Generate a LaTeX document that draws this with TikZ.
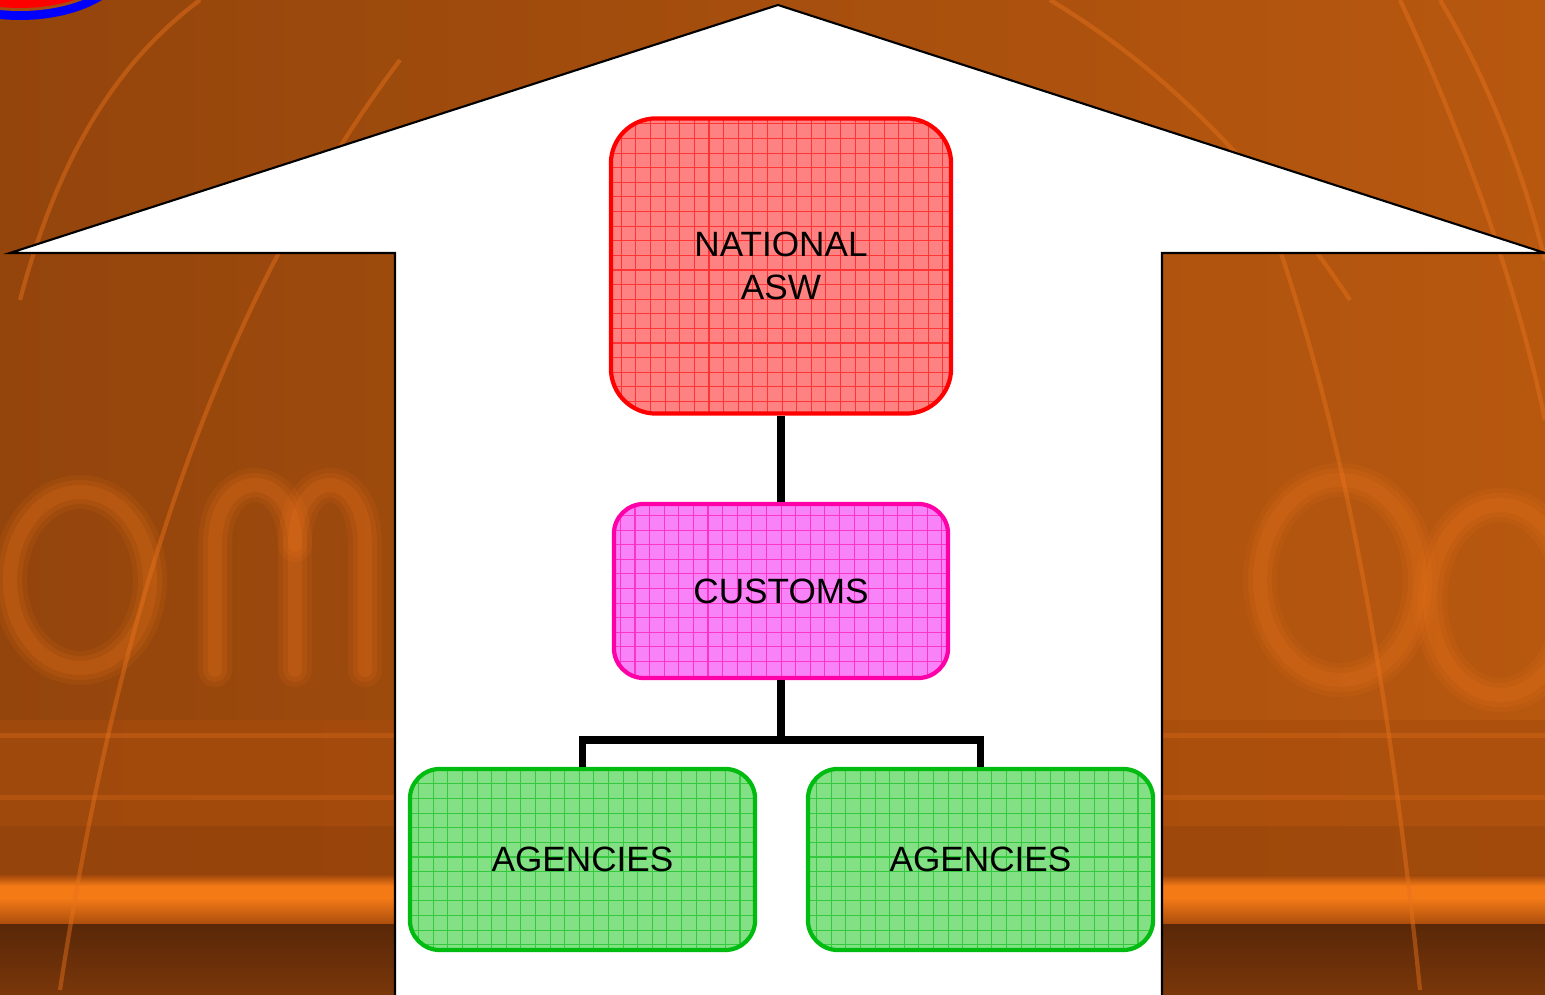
\documentclass[tikz,border=0pt]{standalone}
\usepackage{fontspec}
\setmainfont{Liberation Sans}
\definecolor{bgA}{HTML}{94450C}
\definecolor{bgB}{HTML}{B8580F}
\definecolor{bgMid}{HTML}{A84C0C}
\definecolor{glow}{HTML}{E8721C}
\definecolor{band}{HTML}{F47A16}
\definecolor{darkband}{HTML}{5A2808}
\definecolor{natborder}{HTML}{FF0000}
\definecolor{natfill}{HTML}{FF8282}
\definecolor{cusborder}{HTML}{FF00A8}
\definecolor{cusfill}{HTML}{F882F8}
\definecolor{agborder}{HTML}{00BB10}
\definecolor{agfill}{HTML}{84E084}
\tikzset{
  box/.style={draw, line width=1.2pt, font=\fontsize{10}{12}\selectfont, align=center, inner sep=0pt},
  gridded/.style={path picture={\draw[#1, line width=0.3pt, opacity=0.6] ([shift={(-1cm,-1cm)}]path picture bounding box.south west) grid[step=0.146cm] ([shift={(1cm,1cm)}]path picture bounding box.north east);}},
  conn/.style={line width=2pt, black},
  ghostA/.style={line width=0.34cm, glow, opacity=0.12, line cap=round},
  ghostB/.style={line width=0.24cm, glow, opacity=0.16, line cap=round},
  ghostC/.style={line width=0.14cm, glow, opacity=0.2, line cap=round},
  streak/.style={line width=1.2pt, glow, opacity=0.45}
}
\begin{document}
\begin{tikzpicture}[x=0.01cm,y=-0.01cm]
\useasboundingbox (0,0) rectangle (1545,995);
% background
\fill[left color=bgA, right color=bgB] (0,0) rectangle (1545,995);
\fill[bgMid, opacity=0.6] (0,720) rectangle (1545,925);
\fill[glow, opacity=0.3] (0,733) rectangle (1545,738);
\fill[glow, opacity=0.25] (0,795) rectangle (1545,800);
\fill[darkband, opacity=0.15] (0,826) rectangle (1545,878);
\fill[top color=bgMid, bottom color=band] (0,876) rectangle (1545,886);
\fill[band] (0,886) rectangle (1545,898);
\fill[top color=band, bottom color=bgMid] (0,898) rectangle (1545,925);
\fill[top color=darkband, bottom color=darkband!60!bgMid] (0,925) rectangle (1545,995);
% ghost letters (blurred background)
\foreach \s in {ghostA,ghostB,ghostC}{
  \draw[\s] (80,580) ellipse (70 and 88);
  \draw[\s] (215,670) -- (215,545) .. controls (215,465) and (295,465) .. (295,545) -- (295,670);
  \draw[\s] (295,545) .. controls (295,465) and (365,465) .. (365,545) -- (365,670);
  \draw[\s] (1340,580) ellipse (80 and 100);
  \draw[\s] (1500,600) ellipse (70 and 95);
}
% streaks
\draw[streak] (20,300) .. controls (60,150) and (120,60) .. (200,0);
\draw[streak] (60,990) .. controls (120,600) and (220,300) .. (400,60);
\draw[streak] (1280,250) .. controls (1330,400) and (1380,600) .. (1420,990);
\draw[streak] (1400,0) .. controls (1470,150) and (1520,300) .. (1545,420);
\draw[streak] (1050,0) .. controls (1150,60) and (1250,150) .. (1350,300);
\draw[streak] (1440,0) .. controls (1500,100) and (1530,200) .. (1545,260);
% logo fragment
\fill[blue] (20,-40) ellipse (110 and 60);
\fill[bgA!80!glow] (20,-40) ellipse (101 and 51);
\fill[red] (20,-40) ellipse (98 and 48);
% house arrow
\draw[fill=white, line width=0.6pt] (778,5) -- (1545,253) -- (1162,253) -- (1162,1000) -- (395,1000) -- (395,253) -- (10,253) -- cycle;
% nodes
\node[box, draw=natborder, fill=natfill, gridded=natborder, rounded corners=0.45cm, minimum width=3.40cm, minimum height=2.95cm] (nat) at (781,266) {NATIONAL\\ASW};
\node[box, draw=cusborder, fill=cusfill, gridded=cusborder, rounded corners=0.3cm, minimum width=3.34cm, minimum height=1.74cm] (cus) at (781,591) {CUSTOMS};
\node[box, draw=agborder, fill=agfill, gridded=agborder, rounded corners=0.3cm, minimum width=3.45cm, minimum height=1.81cm] (ag1) at (582.5,859.5) {AGENCIES};
\node[box, draw=agborder, fill=agfill, gridded=agborder, rounded corners=0.3cm, minimum width=3.45cm, minimum height=1.81cm] (ag2) at (980.5,859.5) {AGENCIES};
% connectors
\coordinate (j) at (781,740);
\draw[conn] (nat.south) -- (cus.north);
\draw[conn] (cus.south) -- (j);
\draw[conn] (ag1.north) |- (j) -| (ag2.north);
\end{tikzpicture}
\end{document}
